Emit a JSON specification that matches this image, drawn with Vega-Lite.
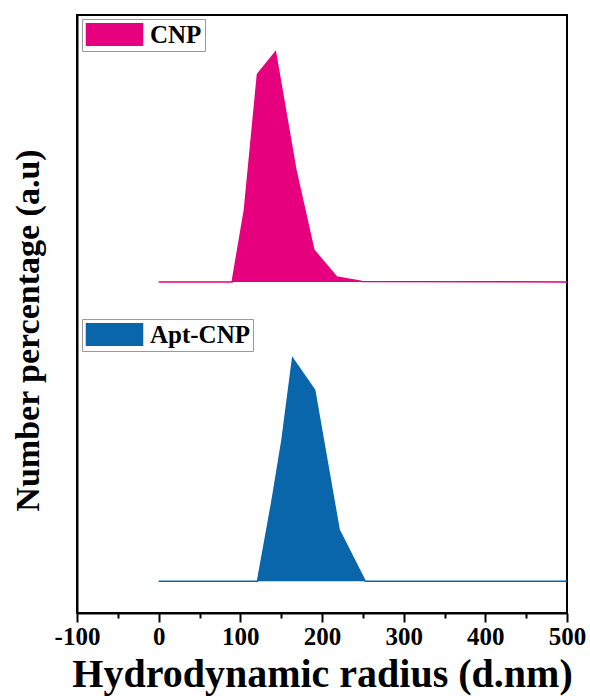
{
  "$schema": "https://vega.github.io/schema/vega-lite/v6.json",
  "width": 490,
  "height": 598,
  "autosize": {"type": "none"},
  "padding": {"left": 77, "top": 15, "right": 23, "bottom": 83},
  "background": "white",
  "config": {
    "view": {"stroke": "black", "strokeWidth": 2},
    "legend": {
      "orient": "none",
      "title": null,
      "symbolType": "M-2.5,-1H2.5V1H-2.5Z",
      "symbolSize": 529,
      "symbolStrokeWidth": 0,
      "symbolOpacity": 1,
      "symbolOffset": 17,
      "labelOffset": 23,
      "labelFont": "Liberation Serif",
      "labelFontWeight": "bold",
      "labelFontSize": 25,
      "labelColor": "black",
      "strokeColor": "#9a9a9a",
      "fillColor": "white",
      "padding": 3,
      "cornerRadius": 0
    }
  },
  "datasets": {
    "cnp": [
      {"r": 0, "v": 55.35, "s": "CNP"},
      {"r": 90, "v": 55.35, "s": "CNP"},
      {"r": 105, "v": 67.4, "s": "CNP"},
      {"r": 121, "v": 90.1, "s": "CNP"},
      {"r": 143, "v": 93.8, "s": "CNP"},
      {"r": 168, "v": 74.1, "s": "CNP"},
      {"r": 190, "v": 60.7, "s": "CNP"},
      {"r": 218, "v": 56.2, "s": "CNP"},
      {"r": 249, "v": 55.45, "s": "CNP"},
      {"r": 500, "v": 55.35, "s": "CNP"}
    ],
    "apt": [
      {"r": 0, "v": 5.3, "s": "Apt-CNP"},
      {"r": 121, "v": 5.3, "s": "Apt-CNP"},
      {"r": 139, "v": 18.9, "s": "Apt-CNP"},
      {"r": 151, "v": 28.9, "s": "Apt-CNP"},
      {"r": 164, "v": 42.6, "s": "Apt-CNP"},
      {"r": 191, "v": 37.3, "s": "Apt-CNP"},
      {"r": 221, "v": 13.9, "s": "Apt-CNP"},
      {"r": 253, "v": 5.3, "s": "Apt-CNP"},
      {"r": 500, "v": 5.3, "s": "Apt-CNP"}
    ]
  },
  "layer": [
    {
      "data": {"name": "cnp"},
      "mark": {"type": "area", "line": {"strokeWidth": 1.5}, "opacity": 1},
      "encoding": {
        "x": {
          "field": "r",
          "type": "quantitative",
          "scale": {"domain": [-100, 500], "nice": false, "zero": false},
          "axis": {
            "orient": "bottom",
            "values": [-100, 0, 100, 200, 300, 400, 500],
            "labelExpr": "'' + datum.value",
            "grid": false,
            "domainColor": "black",
            "domainWidth": 2,
            "tickColor": "black",
            "tickWidth": 2,
            "tickSize": 9,
            "labelFont": "Liberation Serif",
            "labelFontWeight": "bold",
            "labelFontSize": 25,
            "labelColor": "black",
            "labelPadding": 2,
            "labelFlush": false,
            "labelOverlap": false,
            "title": "Hydrodynamic radius (d.nm)",
            "titleFont": "Liberation Serif",
            "titleFontWeight": "bold",
            "titleFontSize": 40,
            "titleColor": "black",
            "titleY": 73,
            "titleBaseline": "alphabetic"
          }
        },
        "y": {
          "field": "v",
          "type": "quantitative",
          "scale": {"domain": [0, 100], "nice": false},
          "axis": {
            "ticks": false,
            "labels": false,
            "grid": false,
            "domainColor": "black",
            "domainWidth": 2,
            "title": "Number percentage (a.u)",
            "titleFont": "Liberation Serif",
            "titleFontWeight": "bold",
            "titleFontSize": 34,
            "titleColor": "black",
            "titleAngle": 270,
            "titleX": -39,
            "titleY": 315,
            "titleAlign": "center",
            "titleBaseline": "alphabetic"
          }
        },
        "y2": {"datum": 55.35},
        "color": {
          "field": "s",
          "type": "nominal",
          "scale": {"domain": ["CNP"], "range": ["#E6007E"]},
          "legend": {"legendX": 5, "legendY": 4}
        }
      }
    },
    {
      "data": {"name": "apt"},
      "mark": {"type": "area", "line": {"strokeWidth": 1.5}, "opacity": 1},
      "encoding": {
        "x": {
          "field": "r",
          "type": "quantitative",
          "scale": {"domain": [-100, 500], "nice": false, "zero": false},
          "axis": {
            "orient": "bottom",
            "values": [-50, 50, 150, 250, 350, 450],
            "grid": false,
            "domain": false,
            "labels": false,
            "title": null,
            "tickColor": "black",
            "tickWidth": 2,
            "tickSize": 5
          }
        },
        "y": {
          "field": "v",
          "type": "quantitative",
          "scale": {"domain": [0, 100], "nice": false},
          "axis": {
            "ticks": false,
            "labels": false,
            "grid": false,
            "domainColor": "black",
            "domainWidth": 2,
            "title": "Number percentage (a.u)",
            "titleFont": "Liberation Serif",
            "titleFontWeight": "bold",
            "titleFontSize": 34,
            "titleColor": "black",
            "titleAngle": 270,
            "titleX": -39,
            "titleY": 315,
            "titleAlign": "center",
            "titleBaseline": "alphabetic"
          }
        },
        "y2": {"datum": 5.3},
        "color": {
          "field": "s",
          "type": "nominal",
          "scale": {"domain": ["Apt-CNP"], "range": ["#0A66AA"]},
          "legend": {"legendX": 5, "legendY": 304}
        }
      }
    }
  ],
  "resolve": {"scale": {"color": "independent"}, "axis": {"x": "independent"}}
}
